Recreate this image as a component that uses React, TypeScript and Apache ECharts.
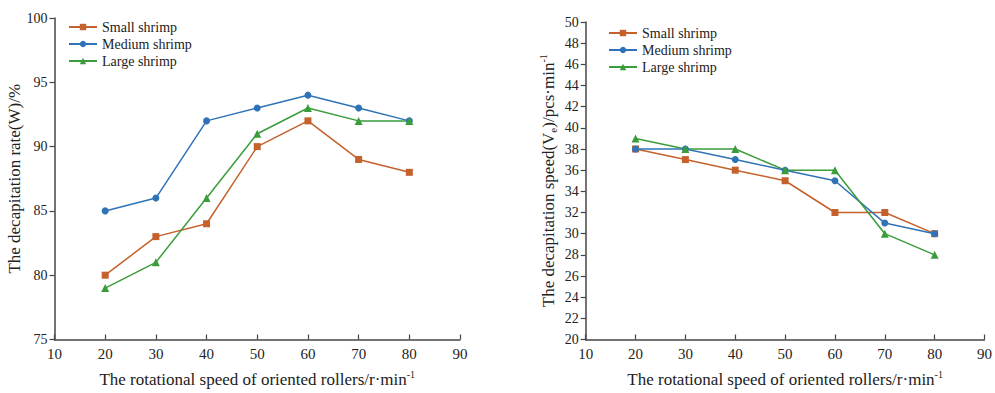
import React, { useEffect, useRef } from "react";
import * as echarts from "echarts";

const speeds = [20, 30, 40, 50, 60, 70, 80];
const seriesNames = ["Small shrimp", "Medium shrimp", "Large shrimp"];

const rateSmall = [80, 83, 84, 90, 92, 89, 88];
const rateMedium = [85, 86, 92, 93, 94, 93, 92];
const rateLarge = [79, 81, 86, 91, 93, 92, 92];

const speedSmall = [38, 37, 36, 35, 32, 32, 30];
const speedMedium = [38, 38, 37, 36, 35, 31, 30];
const speedLarge = [39, 38, 38, 36, 36, 30, 28];

const colors = ["#c4612c", "#2f73b6", "#3b9c3b"];
const symbols = ["rect", "circle", "triangle"];
const FONT = "Liberation Serif";

export default function App() {
  const ref = useRef<HTMLDivElement>(null);
  useEffect(() => {
    if (!ref.current) return;
    const chart = echarts.init(ref.current, undefined, { renderer: "svg" });
    const rich = {
      a: { fontFamily: FONT, fontSize: 17, color: "#222", lineHeight: 20, verticalAlign: "middle" },
      sup: { fontFamily: FONT, fontSize: 10, color: "#222", lineHeight: 10, verticalAlign: "top" },
      sub: { fontFamily: FONT, fontSize: 11, color: "#222", lineHeight: 9, verticalAlign: "bottom" },
    };
    const xAxisCommon = (gridIndex: number) => ({
      type: "value",
      gridIndex,
      min: 10,
      max: 90,
      interval: 10,
      name: "{a|The rotational speed of oriented rollers/r·min}{sup|-1}",
      nameLocation: "middle",
      nameGap: 30,
      nameTextStyle: { rich },
      axisLine: { lineStyle: { color: "#444", width: 1.5 } },
      axisTick: { inside: true, length: 5, lineStyle: { color: "#444", width: 1.2 } },
      axisLabel: { fontFamily: FONT, fontSize: 15, color: "#222", margin: 7 },
      splitLine: { show: false },
    });
    const yAxisBase = {
      type: "value",
      nameLocation: "middle",
      axisLine: { show: true, lineStyle: { color: "#444", width: 1.5 } },
      axisTick: { show: true, inside: false, length: 5, lineStyle: { color: "#444", width: 1.2 } },
      axisLabel: { fontFamily: FONT, fontSize: 14, color: "#222", margin: 7 },
      splitLine: { show: false },
    };
    const mk = (name: string, i: number, data: number[], xIdx: number) => ({
      type: "line",
      name,
      xAxisIndex: xIdx,
      yAxisIndex: xIdx,
      data: speeds.map((s, k) => [s, data[k]]),
      symbol: symbols[i],
      symbolSize: i === 2 ? 8 : 7,
      itemStyle: { color: colors[i] },
      lineStyle: { color: colors[i], width: 1.5 },
    });
    const legendCommon = {
      orient: "vertical",
      itemWidth: 28,
      itemHeight: 8,
      itemGap: 3,
      data: seriesNames,
      textStyle: { fontFamily: FONT, fontSize: 14, color: "#222" },
    };
    chart.setOption({
      animation: false,
      backgroundColor: "#fff",
      grid: [
        { left: 54.5, top: 18, width: 405.5, height: 326 },
        { left: 585.7, top: 22, width: 399.3, height: 322 },
      ],
      legend: [
        { ...legendCommon, left: 63, top: 15 },
        { ...legendCommon, left: 603, top: 21 },
      ],
      xAxis: [xAxisCommon(0), xAxisCommon(1)],
      yAxis: [
        {
          ...yAxisBase,
          gridIndex: 0,
          min: 75,
          max: 100,
          interval: 5,
          name: "{a|The decapitation rate(W)/%}",
          nameGap: 25,
          nameTextStyle: { rich },
        },
        {
          ...yAxisBase,
          gridIndex: 1,
          min: 20,
          max: 50,
          interval: 2,
          name: "{a|The decapitation speed(V}{sub|e}{a|)/pcs·min}{sup|-1}",
          nameGap: 27,
          nameTextStyle: { rich },
        },
      ],
      series: [
        mk(seriesNames[0], 0, rateSmall, 0),
        mk(seriesNames[1], 1, rateMedium, 0),
        mk(seriesNames[2], 2, rateLarge, 0),
        mk(seriesNames[0], 0, speedSmall, 1),
        mk(seriesNames[1], 1, speedMedium, 1),
        mk(seriesNames[2], 2, speedLarge, 1),
      ],
    });
    return () => chart.dispose();
  }, []);
  return (
    <div
      ref={ref}
      style={{ position: "fixed", left: 0, top: 0, width: 995, height: 393, background: "#fff" }}
    />
  );
}
